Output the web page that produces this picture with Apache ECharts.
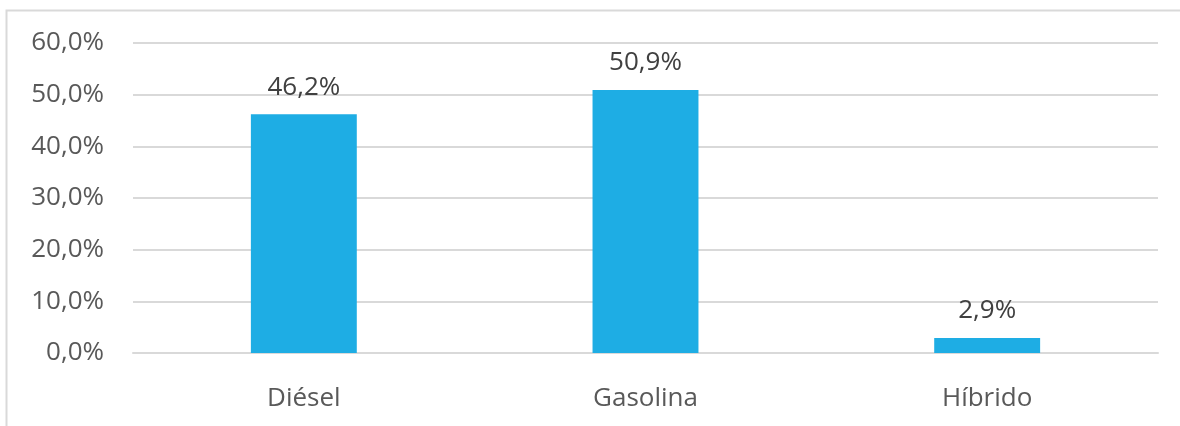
<!DOCTYPE html>
<html>
<head>
<meta charset="utf-8">
<script src="https://cdn.jsdelivr.net/npm/echarts@6/dist/echarts.min.js"></script>
<style>
  html, body { margin: 0; padding: 0; background: #fff; }
  #chart { width: 1180px; height: 426px; }
</style>
</head>
<body>
<div id="chart"></div>
<script>
// datos del gráfico
const categories = ['Diésel', 'Gasolina', 'Híbrido'];
const shares = [46.2, 50.9, 2.9];
const yTicks = [0, 10, 20, 30, 40, 50, 60];

const fmt = v => v.toFixed(1).replace('.', ',') + '%';
const font = '"Open Sans", "Noto Sans", sans-serif';

const myChart = echarts.init(document.getElementById('chart'));
myChart.setOption({
  animation: false,
  graphic: [{
    type: 'polyline',
    shape: { points: [[6.5, 440], [6.5, 10.5], [1190, 10.5]] },
    style: { fill: 'none', stroke: '#d9d9d9', lineWidth: 2 },
    silent: true,
  }],
  grid: { left: 133, right: 22, top: 43, bottom: 73 },
  xAxis: {
    type: 'category',
    data: categories,
    axisLine: { show: true, lineStyle: { color: '#d9d9d9', width: 2 } },
    axisTick: { show: false },
    axisLabel: { color: '#595959', fontSize: 26, fontFamily: font, margin: 33 },
  },
  yAxis: {
    type: 'value',
    min: yTicks[0],
    max: yTicks[yTicks.length - 1],
    interval: 10,
    axisLine: { show: false },
    axisTick: { show: false },
    splitLine: { lineStyle: { color: '#d9d9d9', width: 2 } },
    axisLabel: { color: '#595959', fontSize: 26, fontFamily: font, margin: 29, formatter: v => fmt(v) },
  },
  series: [{
    type: 'bar',
    data: shares,
    barWidth: '31%',
    itemStyle: { color: '#1eade4' },
    label: {
      show: true,
      position: 'top',
      distance: 14,
      color: '#404040',
      fontSize: 26,
      fontFamily: font,
      formatter: p => fmt(p.value),
    },
  }],
});
</script>
</body>
</html>
